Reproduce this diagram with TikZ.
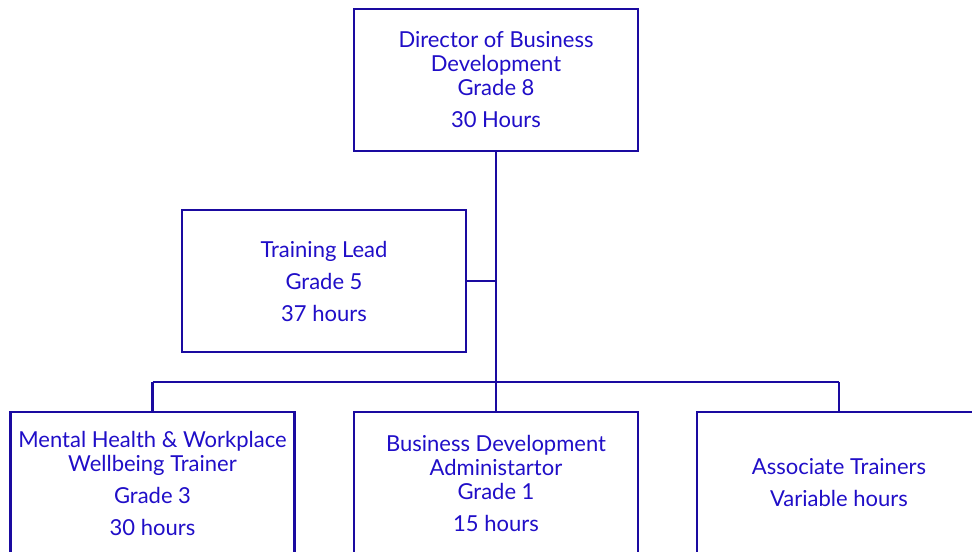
\documentclass[tikz,border=0pt]{standalone}
\usepackage{fontspec}
\setmainfont{Lato}
\usepackage{tikz}
\definecolor{chartline}{RGB}{26,10,160}
\definecolor{charttext}{RGB}{32,14,200}
\tikzset{post/.style={draw=chartline, line width=2.2pt, fill=white, minimum width=213pt, minimum height=106.5pt, inner sep=0pt, align=center, text=charttext, font=\fontsize{16.5}{18}\selectfont}}
\tikzset{wire/.style={draw=chartline, line width=2.2pt}}

\begin{document}
\begin{tikzpicture}[x=0.75pt, y=-0.75pt]
    \useasboundingbox (0,0) rectangle (972,552);
    \clip (0,0) rectangle (972,552);

    \node (dir) [post] at (496,80) {Director of Business\\Development\\Grade 8\\[6pt]30 Hours};
    \node (lead) [post] at (324,281) {Training Lead\\[6pt]Grade 5\\[6pt]37 hours};

    \coordinate (tee) at (496,281);
    \coordinate (bus) at (496,382);
    \coordinate (busl) at (152.5,382);
    \coordinate (busr) at (839,382);

    \node (mh) [post] at (152.5,483) {Mental Health \& Workplace\\Wellbeing Trainer\\[6pt]Grade 3\\[6pt]30 hours};
    \node (bda) [post] at (496,483) {Business Development\\Administartor\\Grade 1\\[6pt]15 hours};
    \node (assoc) [post] at (839,483) {Associate Trainers\\[6pt]Variable hours};

    \draw[wire] (dir) -- (bus);
    \draw[wire] (lead) -- (tee);
    \draw[wire] (busl) -- (busr);
    \draw[wire] (busl) -- (mh);
    \draw[wire] (bus) -- (bda);
    \draw[wire] (busr) -- (assoc);
\end{tikzpicture}
\end{document}
